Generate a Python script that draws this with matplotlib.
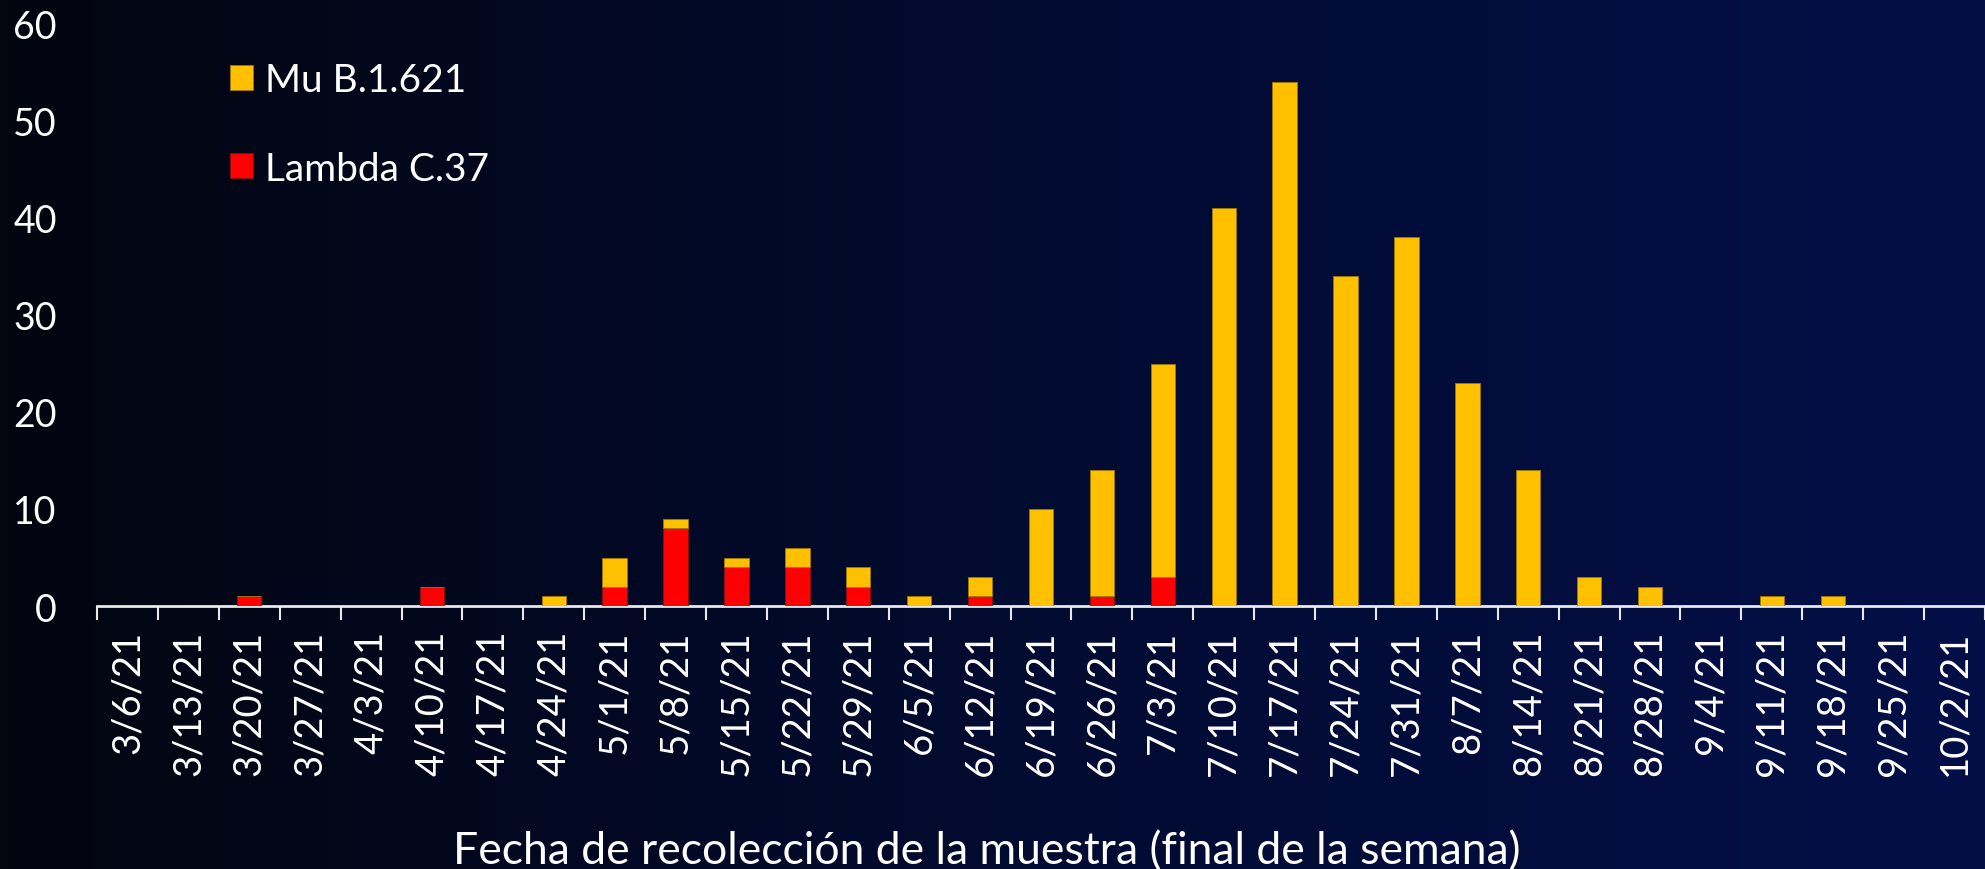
import numpy as np
import matplotlib
matplotlib.use("Agg")
import matplotlib.pyplot as plt
from matplotlib.colors import LinearSegmentedColormap

plt.rcParams['font.family'] = ['Lato', 'DejaVu Sans']

dates = ["3/6/21", "3/13/21", "3/20/21", "3/27/21", "4/3/21", "4/10/21", "4/17/21",
         "4/24/21", "5/1/21", "5/8/21", "5/15/21", "5/22/21", "5/29/21", "6/5/21",
         "6/12/21", "6/19/21", "6/26/21", "7/3/21", "7/10/21", "7/17/21", "7/24/21",
         "7/31/21", "8/7/21", "8/14/21", "8/21/21", "8/28/21", "9/4/21", "9/11/21",
         "9/18/21", "9/25/21", "10/2/21"]
lambda_c37 = [0, 0, 1, 0, 0, 2, 0, 0, 2, 8, 4, 4, 2, 0, 1, 0, 1, 3, 0, 0, 0,
              0, 0, 0, 0, 0, 0, 0, 0, 0, 0]
mu_b1621 = [0, 0, 0, 0, 0, 0, 0, 1, 3, 1, 1, 2, 2, 1, 2, 10, 13, 22, 41, 54, 34,
            38, 23, 14, 3, 2, 0, 1, 1, 0, 0]
y_ticks = [0, 10, 20, 30, 40, 50, 60]

W, H = 1985, 870
fig = plt.figure(figsize=(W / 100, H / 100), dpi=100)

# gradient background
bg = fig.add_axes([0, 0, 1, 1], zorder=-10)
cmap = LinearSegmentedColormap.from_list("bg", ["#03050f", "#020b30", "#040f48"])
bg.imshow(np.linspace(0, 1, 256)[None, :], aspect="auto", cmap=cmap,
          extent=[0, 1, 0, 1])
bg.set_axis_off()

left, right = 97, 1985
top, bottom = 25, 607
ax = fig.add_axes([left / W, 1 - bottom / H, (right - left) / W, (bottom - top) / H])
ax.patch.set_alpha(0)

x = np.arange(len(dates))
ax.bar(x, lambda_c37, width=0.4, color="#FF0000", edgecolor="#8a1010",
       linewidth=0.6, label="Lambda C.37", zorder=3)
ax.bar(x, mu_b1621, width=0.4, bottom=lambda_c37, color="#FFC000",
       edgecolor="#a07a00", linewidth=0.6, label="Mu B.1.621", zorder=3)

ax.set_xlim(-0.5, len(dates) - 0.5)
ax.set_ylim(0, 60)
ax.set_yticks(y_ticks)
ax.set_yticklabels([str(v) for v in y_ticks])
ax.set_xticks(x)
ax.set_xticklabels(dates, rotation=90)
ax.set_xticks(np.arange(-0.5, len(dates)), minor=True)

for s in ["top", "right", "left"]:
    ax.spines[s].set_visible(False)
ax.spines["bottom"].set_color("#e8e8e8")
ax.spines["bottom"].set_linewidth(2)

ax.tick_params(axis="y", length=0, pad=29, labelsize=27, labelcolor="white")
ax.tick_params(axis="x", which="major", length=0, pad=17, labelsize=27.5,
               labelcolor="white")
ax.tick_params(axis="x", which="minor", length=10, width=1.5, color="#e8e8e8",
               direction="out")

h, l = ax.get_legend_handles_labels()
leg = ax.legend(h[::-1], l[::-1], loc="upper left", bbox_to_anchor=(0.0704, 0.934),
                frameon=False, fontsize=28, labelcolor="white", borderpad=0,
                borderaxespad=0,
                handlelength=0.6, handleheight=0.6, handletextpad=0.3,
                labelspacing=1.34)

fig.text(0.497, 0.0205, "Fecha de recolección de la muestra (final de la semana)",
         ha="center", va="center", color="white", fontsize=32)

fig.savefig("out.png", dpi=100, facecolor="#03050f")
